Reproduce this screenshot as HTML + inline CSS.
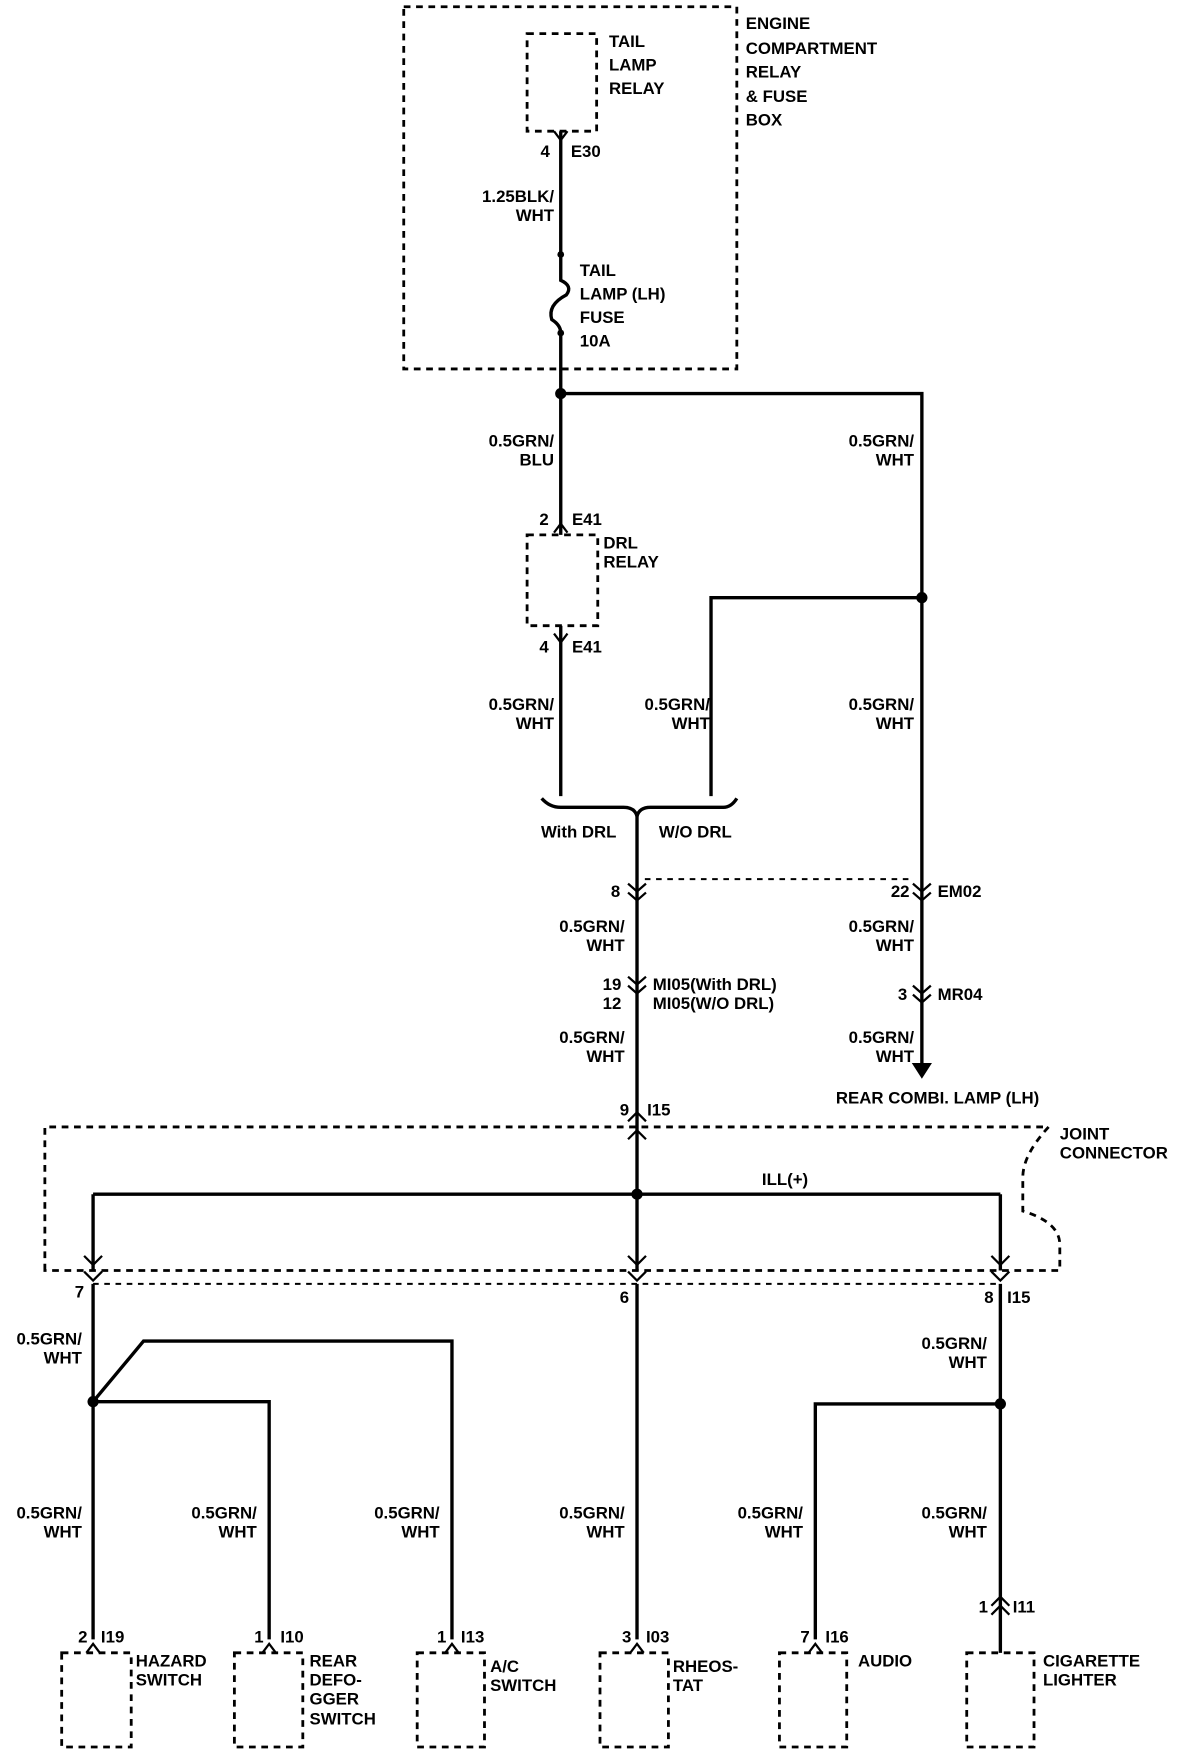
<!DOCTYPE html>
<html><head><style>
html,body{margin:0;padding:0;background:#fff;}
svg{display:block;}
text{font-family:"Liberation Sans",sans-serif;font-weight:bold;font-size:15px;fill:#000;}
.r{text-anchor:end;}
.c{text-anchor:middle;}
</style></head><body>
<svg width="1200" height="1756" viewBox="0 0 1070 1566" preserveAspectRatio="none" xmlns="http://www.w3.org/2000/svg">
<g fill="none" stroke="#000" stroke-width="2.5" stroke-dasharray="6,5">
<rect x="360" y="6" width="297" height="323"/>
<rect x="470" y="30" width="62" height="87"/>
<rect x="470" y="477" width="63" height="81"/>
<path d="M40 1133 V1005 H935 Q912 1030 912 1050 V1080 Q945 1090 945 1110 V1133 Z"/>
<rect x="55" y="1474" width="62" height="84"/>
<rect x="209" y="1474" width="61" height="84"/>
<rect x="372" y="1474" width="60" height="84"/>
<rect x="535" y="1474" width="61" height="84"/>
<rect x="695" y="1474" width="60" height="84"/>
<rect x="862" y="1474" width="60" height="84"/>
</g>
<g fill="none" stroke="#000" stroke-width="1.8" stroke-dasharray="5,5">
<path d="M575 784 H815"/>
<path d="M83 1145 H892"/>
</g>
<g fill="none" stroke="#000" stroke-width="3">
<path d="M500 117 V227"/>
<path d="M500 227 V250 Q511 255 505 263 Q488 272 492 285 Q500 290 500 297"/>
<path d="M500 297 V477"/>
<path d="M500 558 V710"/>
<path d="M500 351 H822 V950"/>
<path d="M822 533 H634 V710"/>
<path d="M483 712 Q490 720 500 720 H556 Q566 720 568 728 Q570 720 580 720 H645 Q652 720 657 712"/>
<path d="M568 728 V1133"/>
<path d="M83 1065 H892"/>
<path d="M83 1065 V1133"/>
<path d="M892 1065 V1133"/>
<path d="M83 1145 V1462"/>
<path d="M83 1250 L128 1196 H403 V1462"/>
<path d="M83 1250 H240 V1462"/>
<path d="M568 1145 V1462"/>
<path d="M892 1145 V1474"/>
<path d="M892 1252 H727 V1462"/>
</g>
<g fill="none" stroke="#000" stroke-width="2">
<path d="M494 117 L500 125 L506 117"/>
<path d="M494 565 L500 573 L506 565"/>
<path d="M494 475 L500 467 L506 475"/>
<path d="M560 788 L568 795 L576 788 M560 796 L568 803 L576 796"/>
<path d="M814 788 L822 795 L830 788 M814 796 L822 803 L830 796"/>
<path d="M560 871 L568 878 L576 871 M560 879 L568 886 L576 879"/>
<path d="M814 879 L822 886 L830 879 M814 887 L822 894 L830 887"/>
<path d="M560 1000 L568 992 L576 1000 M560 1016 L568 1008 L576 1016"/>
<path d="M75 1120 L83 1128 L91 1120 M75 1134 L83 1142 L91 1134"/>
<path d="M560 1120 L568 1128 L576 1120 M560 1134 L568 1142 L576 1134"/>
<path d="M884 1120 L892 1128 L900 1120 M884 1134 L892 1142 L900 1134"/>
<path d="M884 1432 L892 1424 L900 1432 M884 1440 L892 1432 L900 1440"/>
<path d="M77 1474 L83 1466 L89 1474"/>
<path d="M234 1474 L240 1466 L246 1474"/>
<path d="M397 1474 L403 1466 L409 1474"/>
<path d="M562 1474 L568 1466 L574 1474"/>
<path d="M721 1474 L727 1466 L733 1474"/>
</g>
<g fill="#000">
<circle cx="500" cy="227" r="3"/><circle cx="500" cy="297" r="3"/>
<circle cx="500" cy="351" r="5"/><circle cx="822" cy="533" r="5"/>
<circle cx="568" cy="1065" r="5"/><circle cx="83" cy="1250" r="5"/><circle cx="892" cy="1252" r="5"/>
<path d="M813 948 L831 948 L822 962 Z"/>
</g>
<text x="543" y="42">TAIL</text><text x="543" y="63">LAMP</text><text x="543" y="84">RELAY</text>
<text x="665" y="26">ENGINE</text><text x="665" y="48">COMPARTMENT</text><text x="665" y="69">RELAY</text><text x="665" y="91">&amp; FUSE</text><text x="665" y="112">BOX</text>
<text x="482" y="140">4</text><text x="509" y="140">E30</text>
<text class="r" x="494" y="180">1.25BLK/</text><text class="r" x="494" y="197">WHT</text>
<text x="517" y="246">TAIL</text><text x="517" y="267">LAMP (LH)</text><text x="517" y="288">FUSE</text><text x="517" y="309">10A</text>
<text class="r" x="494" y="398">0.5GRN/</text><text class="r" x="494" y="415">BLU</text>
<text class="r" x="815" y="398">0.5GRN/</text><text class="r" x="815" y="415">WHT</text>
<text x="481" y="468">2</text><text x="510" y="468">E41</text>
<text x="538" y="489">DRL</text><text x="538" y="506">RELAY</text>
<text x="481" y="582">4</text><text x="510" y="582">E41</text>
<text class="r" x="494" y="633">0.5GRN/</text><text class="r" x="494" y="650">WHT</text>
<text class="r" x="633" y="633">0.5GRN/</text><text class="r" x="633" y="650">WHT</text>
<text class="r" x="815" y="633">0.5GRN/</text><text class="r" x="815" y="650">WHT</text>
<text class="c" x="516" y="747">With DRL</text><text class="c" x="620" y="747">W/O DRL</text>
<text class="r" x="553" y="800">8</text>
<text class="r" x="811" y="800">22</text><text x="836" y="800">EM02</text>
<text class="r" x="557" y="831">0.5GRN/</text><text class="r" x="557" y="848">WHT</text>
<text class="r" x="815" y="831">0.5GRN/</text><text class="r" x="815" y="848">WHT</text>
<text class="r" x="554" y="883">19</text><text x="582" y="883">MI05(With DRL)</text>
<text class="r" x="554" y="900">12</text><text x="582" y="900">MI05(W/O DRL)</text>
<text class="r" x="809" y="892">3</text><text x="836" y="892">MR04</text>
<text class="r" x="557" y="930">0.5GRN/</text><text class="r" x="557" y="947">WHT</text>
<text class="r" x="815" y="930">0.5GRN/</text><text class="r" x="815" y="947">WHT</text>
<text class="c" x="836" y="984">REAR COMBI. LAMP (LH)</text>
<text class="r" x="561" y="995">9</text><text x="577" y="995">I15</text>
<text x="945" y="1016">JOINT</text><text x="945" y="1033">CONNECTOR</text>
<text class="c" x="700" y="1057">ILL(+)</text>
<text class="r" x="75" y="1157">7</text><text class="r" x="561" y="1162">6</text>
<text class="r" x="886" y="1162">8</text><text x="898" y="1162">I15</text>
<text class="r" x="73" y="1199">0.5GRN/</text><text class="r" x="73" y="1216">WHT</text>
<text class="r" x="880" y="1203">0.5GRN/</text><text class="r" x="880" y="1220">WHT</text>
<text class="r" x="73" y="1354">0.5GRN/</text><text class="r" x="73" y="1371">WHT</text>
<text class="r" x="229" y="1354">0.5GRN/</text><text class="r" x="229" y="1371">WHT</text>
<text class="r" x="392" y="1354">0.5GRN/</text><text class="r" x="392" y="1371">WHT</text>
<text class="r" x="557" y="1354">0.5GRN/</text><text class="r" x="557" y="1371">WHT</text>
<text class="r" x="716" y="1354">0.5GRN/</text><text class="r" x="716" y="1371">WHT</text>
<text class="r" x="880" y="1354">0.5GRN/</text><text class="r" x="880" y="1371">WHT</text>
<text class="r" x="881" y="1438">1</text><text x="903" y="1438">I11</text>
<text class="r" x="78" y="1465">2</text><text x="90" y="1465">I19</text>
<text class="r" x="235" y="1465">1</text><text x="250" y="1465">I10</text>
<text class="r" x="398" y="1465">1</text><text x="411" y="1465">I13</text>
<text class="r" x="563" y="1465">3</text><text x="576" y="1465">I03</text>
<text class="r" x="722" y="1465">7</text><text x="736" y="1465">I16</text>
<text x="121" y="1486">HAZARD</text><text x="121" y="1503">SWITCH</text>
<text x="276" y="1486">REAR</text><text x="276" y="1503">DEFO-</text><text x="276" y="1520">GGER</text><text x="276" y="1538">SWITCH</text>
<text x="437" y="1491">A/C</text><text x="437" y="1508">SWITCH</text>
<text x="600" y="1491">RHEOS-</text><text x="600" y="1508">TAT</text>
<text x="765" y="1486">AUDIO</text>
<text x="930" y="1486">CIGARETTE</text><text x="930" y="1503">LIGHTER</text>
</svg>
</body></html>
